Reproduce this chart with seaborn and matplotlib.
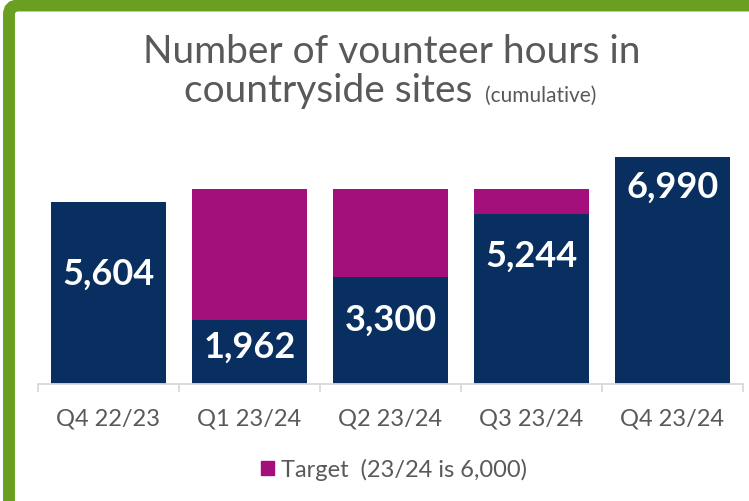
import numpy as np
import pandas as pd
import matplotlib
matplotlib.use('Agg')
import matplotlib.pyplot as plt
import seaborn as sns
from matplotlib.patches import FancyBboxPatch, Patch
from matplotlib.transforms import IdentityTransform

quarters = ['Q4 22/23', 'Q1 23/24', 'Q2 23/24', 'Q3 23/24', 'Q4 23/24']
actual_hours = [5604, 1962, 3300, 5244, 6990]
target_hours = [np.nan, 6000, 6000, 6000, 6000]
legend_label = 'Target  (23/24 is 6,000)'

NAVY = '#082F5F'
MAGENTA = '#A3107C'
GREEN = '#6B9F22'
GREY_TEXT = '#595959'
GREY_AXIS = '#D9D9D9'

sns.set_theme(style='white')
plt.rcParams['font.family'] = ['Lato', 'DejaVu Sans']

df = pd.DataFrame({'quarter': quarters, 'actual': actual_hours, 'target': target_hours})

W, H = 749, 502
fig = plt.figure(figsize=(W / 100, H / 100), dpi=100)
ax = fig.add_axes([38 / W, (H - 385) / H, (743 - 38) / W, 235.4 / H])

# target drawn behind, actual on top -> looks like a stacked gap-to-target bar
sns.barplot(data=df.dropna(subset=['target']), x='quarter', y='target', order=quarters,
            color=MAGENTA, width=0.81, saturation=1, linewidth=0, errorbar=None, ax=ax)
sns.barplot(data=df, x='quarter', y='actual', order=quarters,
            color=NAVY, width=0.81, saturation=1, linewidth=0, errorbar=None, ax=ax)

# labels were placed by hand in the original, drop in pixels below bar top
label_drop = [82, 36, 53, 52, 40]
for bar, val, drop in zip(ax.containers[-1], actual_hours, label_drop):
    ax.annotate(f'{val:,}', (bar.get_x() + bar.get_width() / 2, bar.get_height()),
                xytext=(0, -drop), textcoords='offset pixels', ha='center', va='baseline',
                color='white', fontsize=26, fontweight='bold')

ax.set_xlim(-0.5, 4.5)
ax.set_ylim(0, 7250)
ax.set_yticks([])
ax.set_xlabel('')
ax.set_ylabel('')
for s in ['left', 'right', 'top']:
    ax.spines[s].set_visible(False)
ax.spines['bottom'].set_color(GREY_AXIS)
ax.spines['bottom'].set_linewidth(1.3)
ax.set_xticks(np.arange(-0.5, 5, 1), minor=True)
ax.tick_params(axis='x', which='minor', bottom=True, length=6, width=1.3, color=GREY_AXIS)
ax.tick_params(axis='x', which='major', length=0, pad=17, labelsize=17, labelcolor=GREY_TEXT)

# green frame (top + left edge visible)
frame = FancyBboxPatch((9, -60), 800, H - 6.5 + 60, boxstyle='round,pad=0,rounding_size=9',
                       transform=IdentityTransform(), facecolor='none', edgecolor=GREEN,
                       linewidth=8.6, zorder=10)
fig.patches.append(frame)

# title
fig.text(392 / W, 1 - 63 / H, 'Number of vounteer hours in', ha='center', va='baseline',
         fontsize=28, color=GREY_TEXT)
t1 = fig.text(0, 1 - 102 / H, 'countryside sites', ha='left', va='baseline',
              fontsize=28, color=GREY_TEXT)
t2 = fig.text(0, 1 - 102 / H, '(cumulative)', ha='left', va='baseline',
              fontsize=15, color=GREY_TEXT)
fig.canvas.draw()
r = fig.canvas.get_renderer()
w1 = t1.get_window_extent(r).width
w2 = t2.get_window_extent(r).width
gap = 12
x0 = 390 - (w1 + gap + w2) / 2
t1.set_x(x0 / W)
t2.set_x((x0 + w1 + gap) / W)

fig.legend(handles=[Patch(color=MAGENTA, label=legend_label)], loc='center',
           bbox_to_anchor=(394 / W, 1 - 470 / H), frameon=False, fontsize=17,
           handlelength=0.55, handleheight=0.55, handletextpad=0.3, labelcolor=GREY_TEXT)

fig.savefig('out.png', dpi=100)
plt.close(fig)
